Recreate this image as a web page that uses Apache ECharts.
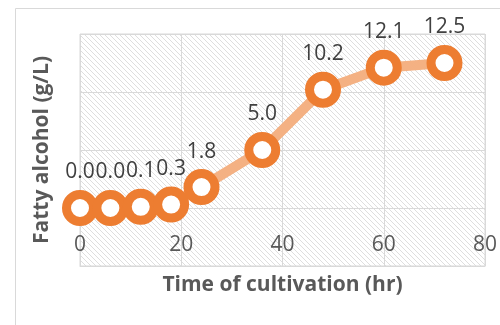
<!DOCTYPE html>
<html>
<head>
<meta charset="utf-8">
<script src="https://cdn.jsdelivr.net/npm/echarts@6/dist/echarts.min.js"></script>
<style>
html,body{margin:0;padding:0;background:#fff;}
#chart{width:500px;height:325px;}
</style>
</head>
<body>
<div id="chart"></div>
<script>
// Sampling times (hr) and measured fatty alcohol titres (g/L)
var hours = [0, 6, 12, 18, 24, 36, 48, 60, 72];
var titre = [0.0, 0.0, 0.1, 0.3, 1.8, 5.0, 10.2, 12.1, 12.5];
var xTicks = [0, 20, 40, 60, 80];

var FONT = 'Open Sans';

// diagonal hatch fill for the plot area
function hatch() {
  var n = 5;
  var c = document.createElement('canvas');
  c.width = n; c.height = n;
  var g = c.getContext('2d');
  g.fillStyle = '#ffffff';
  g.fillRect(0, 0, n, n);
  g.strokeStyle = '#dedede';
  g.lineWidth = 1;
  g.beginPath();
  g.moveTo(-1, -1); g.lineTo(n + 1, n + 1);
  g.moveTo(-1, n - 1); g.lineTo(1, n + 1);
  g.moveTo(n - 1, -1); g.lineTo(n + 1, 1);
  g.stroke();
  return c;
}

var chart = echarts.init(document.getElementById('chart'), null, {renderer: 'canvas'});
chart.setOption({
  animation: false,
  textStyle: {fontFamily: FONT},
  graphic: [{
    type: 'rect', silent: true, z: -10,
    shape: {x: 15.5, y: 8.5, width: 520, height: 340},
    style: {fill: 'none', stroke: '#d9d9d9', lineWidth: 1}
  }],
  grid: {
    left: 80, right: 15, top: 34, bottom: 59,
    containLabel: false,
    outerBoundsMode: 'none',
    show: true,
    backgroundColor: {image: hatch(), repeat: 'repeat'},
    borderColor: '#d9d9d9', borderWidth: 1
  },
  xAxis: {
    type: 'value', min: xTicks[0], max: xTicks[xTicks.length - 1], interval: 20,
    axisLine: {show: true, onZero: false, lineStyle: {color: '#d9d9d9'}},
    axisTick: {show: false},
    splitLine: {show: true, lineStyle: {color: '#d9d9d9', width: 1}},
    axisLabel: {inside: true, color: '#595959', fontSize: 21, fontFamily: FONT, margin: 10},
    name: 'Time of cultivation (hr)',
    nameLocation: 'middle', nameGap: 9,
    nameTextStyle: {color: '#595959', fontSize: 21, fontWeight: 'bold', fontFamily: FONT,
      verticalAlign: 'top'}
  },
  yAxis: {
    type: 'value', min: -5, max: 15, interval: 5,
    axisLine: {show: false},
    axisTick: {show: false},
    axisLabel: {show: false},
    splitLine: {show: true, lineStyle: {color: '#d9d9d9', width: 1}},
    name: 'Fatty alcohol (g/L)',
    nameLocation: 'middle', nameGap: 27,
    nameTextStyle: {color: '#595959', fontSize: 21, fontWeight: 'bold', fontFamily: FONT}
  },
  series: [{
    type: 'line',
    data: hours.map(function (h, i) { return [h, titre[i]]; }),
    symbol: 'circle',
    symbolSize: 27,
    lineStyle: {color: '#F4B183', width: 10},
    itemStyle: {color: '#ffffff', borderColor: '#ED7D31', borderWidth: 9},
    label: {
      show: true, position: 'top', distance: 7,
      color: '#404040', fontSize: 21, fontFamily: FONT,
      formatter: function (p) { return p.value[1].toFixed(1); }
    },
    labelLayout: {hideOverlap: false}
  }]
});
</script>
</body>
</html>
